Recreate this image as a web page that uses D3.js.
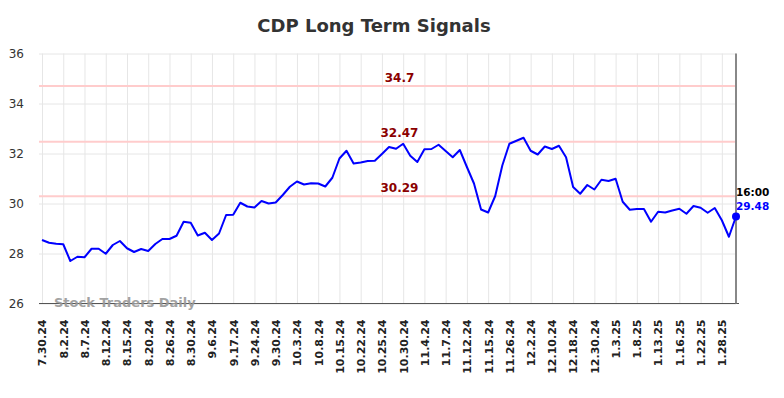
<!DOCTYPE html>
<html>
<head>
<meta charset="utf-8">
<script src="https://cdn.jsdelivr.net/npm/d3@7"></script>
<style>
  body { margin: 0; background: #fff; }
  svg { display: block; font-family: "DejaVu Sans", sans-serif; }
</style>
</head>
<body>
<svg id="chart" width="784" height="398"></svg>
<script>
const title = "CDP Long Term Signals";

// one label every 3 trading days
const tickLabels = [
  "7.30.24", "8.2.24", "8.7.24", "8.12.24", "8.15.24", "8.20.24", "8.26.24",
  "8.30.24", "9.6.24", "9.17.24", "9.24.24", "9.30.24", "10.3.24", "10.8.24",
  "10.15.24", "10.22.24", "10.25.24", "10.30.24", "11.4.24", "11.7.24",
  "11.12.24", "11.15.24", "11.26.24", "12.2.24", "12.10.24", "12.18.24",
  "12.30.24", "1.3.25", "1.8.25", "1.13.25", "1.16.25", "1.22.25", "1.28.25"
];
const TICK_STEP = 3;

const prices = [
  28.54, 28.43, 28.39, 28.37, 27.70, 27.87, 27.85, 28.19, 28.19, 27.99,
  28.34, 28.50, 28.21, 28.06, 28.18, 28.10, 28.38, 28.58, 28.58, 28.71,
  29.27, 29.23, 28.72, 28.83, 28.54, 28.80, 29.54, 29.55, 30.03, 29.88,
  29.84, 30.10, 30.00, 30.04, 30.34, 30.67, 30.88, 30.76, 30.81, 30.80,
  30.68, 31.03, 31.80, 32.11, 31.60, 31.64, 31.70, 31.71, 31.98, 32.26,
  32.19, 32.39, 31.91, 31.66, 32.17, 32.18, 32.35, 32.10, 31.85, 32.14,
  31.46, 30.80, 29.76, 29.64, 30.30, 31.52, 32.39, 32.51, 32.63, 32.11,
  31.96, 32.28, 32.18, 32.31, 31.85, 30.66, 30.39, 30.74, 30.56, 30.95,
  30.90, 30.99, 30.07, 29.75, 29.78, 29.78, 29.27, 29.67, 29.64, 29.72,
  29.79, 29.59, 29.90, 29.83, 29.63, 29.82, 29.33, 28.67, 29.48
];

const signalLevels = [34.7, 32.47, 30.29];
const yTicks = [26, 28, 30, 32, 34, 36];
const yDomain = [26, 36];
const lastTime = "16:00";

const margin = { top: 53.5, right: 48, bottom: 94.5, left: 42 };
const W = 784, H = 398;
const innerW = W - margin.left - margin.right;
const innerH = H - margin.top - margin.bottom;

const svg = d3.select("#chart");
const g = svg.append("g").attr("transform", `translate(${margin.left},${margin.top})`);

const x = d3.scaleLinear().domain([0, prices.length - 1]).range([0, innerW]);
const y = d3.scaleLinear().domain(yDomain).range([innerH, 0]);

const tickIdx = tickLabels.map((_, i) => i * TICK_STEP);

// grid
g.append("g")
  .attr("class", "grid-y")
  .call(d3.axisLeft(y).tickValues(yTicks).tickSize(-innerW).tickFormat(""))
  .call(s => s.select(".domain").remove())
  .call(s => s.selectAll("line").attr("stroke", "#e6e6e6").attr("x1", -3));

g.append("g")
  .attr("class", "grid-x")
  .call(d3.axisBottom(x).tickValues(tickIdx).tickSize(innerH).tickFormat(""))
  .call(s => s.select(".domain").remove())
  .call(s => s.selectAll("line").attr("stroke", "#e6e6e6"));

// signal levels
signalLevels.forEach(level => {
  g.append("line")
    .attr("x1", -3)
    .attr("x2", innerW)
    .attr("y1", y(level))
    .attr("y2", y(level))
    .attr("stroke", "#ffcccc")
    .attr("stroke-width", 2);

  g.append("text")
    .attr("x", 357.5)
    .attr("y", y(level) - 4.5)
    .attr("text-anchor", "middle")
    .attr("fill", "#8b0000")
    .style("font-size", "12px")
    .style("font-weight", "bold")
    .text(level);
});

// y axis labels
g.append("g")
  .call(d3.axisLeft(y).tickValues(yTicks).tickSize(0).tickPadding(18))
  .call(s => s.select(".domain").remove())
  .call(s => s.selectAll("text")
    .attr("fill", "#333")
    .style("font-size", "12px")
    .style("font-family", "DejaVu Sans, sans-serif"));

// x axis
g.append("g")
  .attr("transform", `translate(0,${innerH})`)
  .call(d3.axisBottom(x).tickValues(tickIdx).tickSize(0).tickFormat((d, i) => tickLabels[i]))
  .call(s => s.select(".domain").attr("stroke", "#555").attr("stroke-width", 1.2).attr("d", `M-3,0H${innerW + 3}`))
  .call(s => s.selectAll("text")
    .attr("transform", "rotate(-90)")
    .attr("text-anchor", "end")
    .attr("x", -16)
    .attr("y", 0)
    .attr("dy", "0.35em")
    .attr("fill", "#222")
    .style("font-size", "11px")
    .style("font-weight", "bold")
    .style("font-family", "DejaVu Sans, sans-serif"));

// right marker line
g.append("line")
  .attr("x1", innerW)
  .attr("x2", innerW)
  .attr("y1", 0)
  .attr("y2", innerH)
  .attr("stroke", "#888")
  .attr("stroke-width", 2);

// watermark
g.append("text")
  .attr("x", 12)
  .attr("y", innerH + 3)
  .attr("fill", "#999")
  .attr("opacity", 0.9)
  .style("font-size", "13px")
  .style("font-weight", "bold")
  .text("Stock Traders Daily");

// price line
g.append("path")
  .datum(prices)
  .attr("fill", "none")
  .attr("stroke", "#0000ff")
  .attr("stroke-width", 2)
  .attr("stroke-linejoin", "round")
  .attr("d", d3.line().x((d, i) => x(i)).y(d => y(d)));

const lastI = prices.length - 1;
g.append("circle")
  .attr("cx", x(lastI))
  .attr("cy", y(prices[lastI]))
  .attr("r", 4)
  .attr("fill", "#0000ff");

g.append("text")
  .attr("x", x(lastI))
  .attr("y", y(prices[lastI]) - 20.5)
  .attr("fill", "#000")
  .style("font-size", "10.5px")
  .style("font-weight", "bold")
  .text(lastTime);

g.append("text")
  .attr("x", x(lastI))
  .attr("y", y(prices[lastI]) - 7)
  .attr("fill", "#0000ff")
  .style("font-size", "10.5px")
  .style("font-weight", "bold")
  .text(prices[lastI].toFixed(2));

// title
svg.append("text")
  .attr("x", 374)
  .attr("y", 32)
  .attr("text-anchor", "middle")
  .attr("fill", "#333")
  .style("font-size", "18px")
  .style("font-weight", "bold")
  .text(title);
</script>
</body>
</html>
